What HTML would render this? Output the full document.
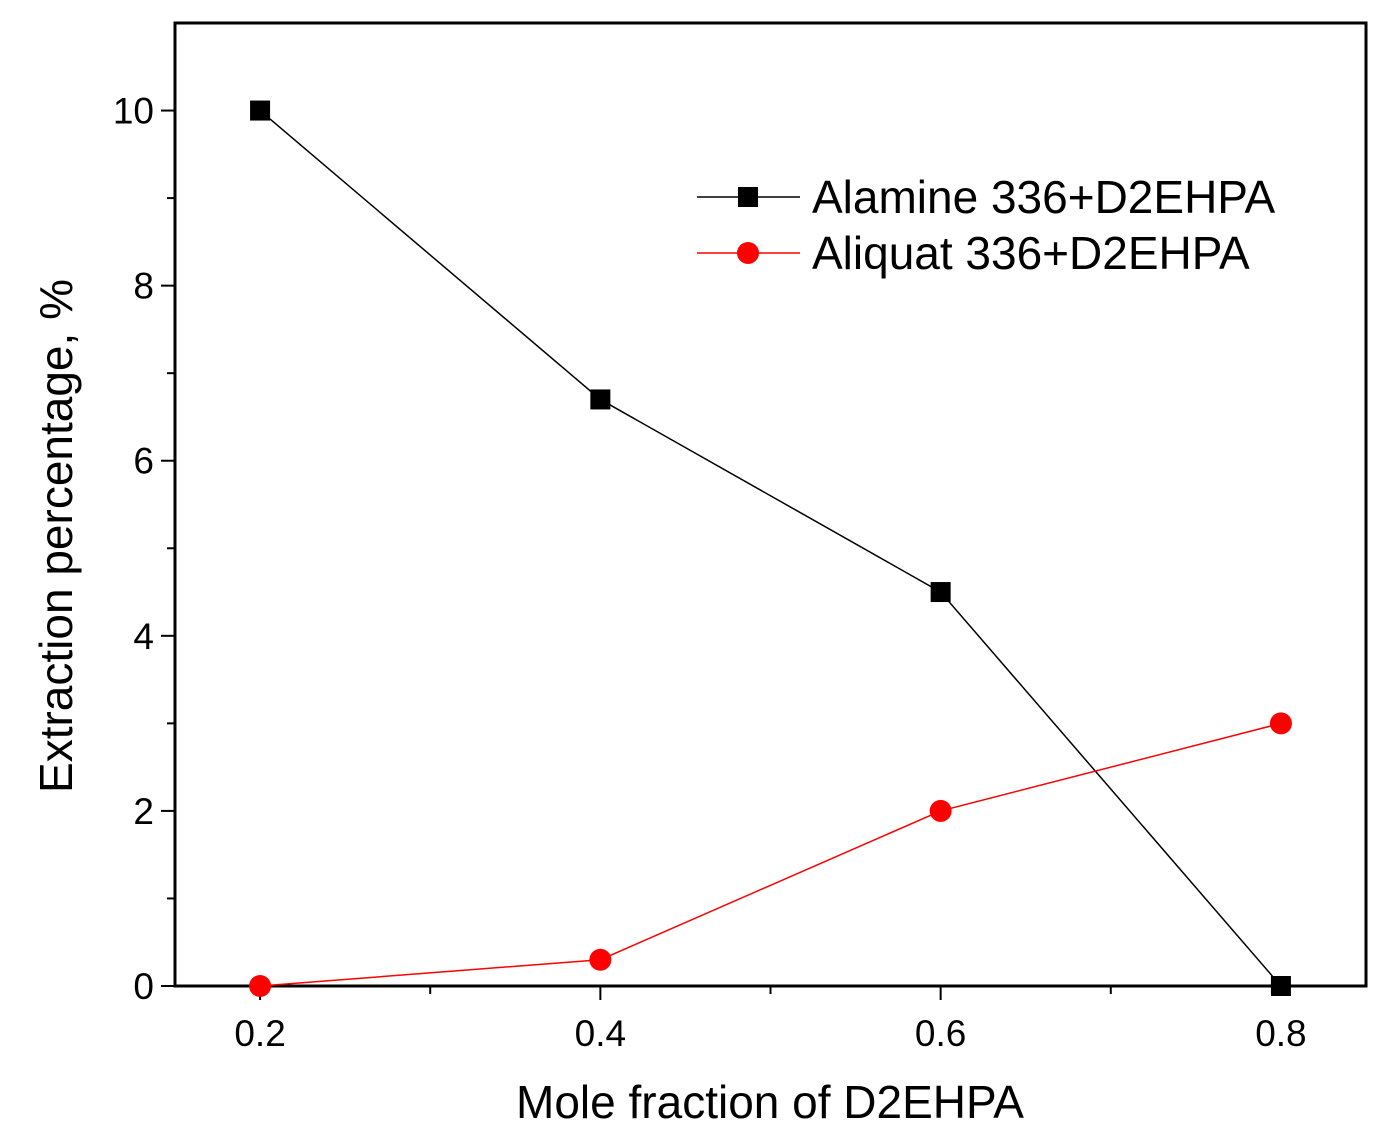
<!DOCTYPE html>
<html><head><meta charset="utf-8"><style>
body{margin:0;background:#fff;}
svg{display:block;font-family:"Liberation Sans",Arial,sans-serif;}
</style></head><body>
<svg id="chart" width="1399" height="1138"></svg>
<script>
const categories=[0.2,0.4,0.6,0.8];
const alamineValues=[10,6.7,4.5,0];
const aliquatValues=[0,0.3,2,3];
const xTickLabels=["0.2","0.4","0.6","0.8"];
const yTickLabels=["0","2","4","6","8","10"];
const yTickValues=[0,2,4,6,8,10];

const L=175,R=1366,T=23,B=986;
const xMin=0.15,xMax=0.85,yMin=0,yMax=11;
const xs=v=>L+(v-xMin)/(xMax-xMin)*(R-L);
const ys=v=>B-(v-yMin)/(yMax-yMin)*(B-T);
const svg=document.getElementById('chart');
const NS='http://www.w3.org/2000/svg';
function mk(tag,attrs,parent){const e=document.createElementNS(NS,tag);for(const k in attrs)e.setAttribute(k,attrs[k]);(parent||svg).appendChild(e);return e;}

const frame=mk('rect',{x:L,y:T,width:R-L,height:B-T,fill:'none',stroke:'#000','stroke-width':3});



for(let v=0.2;v<=0.801;v+=0.1){
  const major=Math.abs((v*10)%2)<0.01;
  const t=mk('line',{x1:xs(v),x2:xs(v),y1:B,y2:B+(major?14:8),stroke:'#000','stroke-width':2});
  
  
}
categories.forEach((c,i)=>{
  const t=mk('text',{x:xs(c),y:B+60,'text-anchor':'middle','font-size':37});
  t.textContent=xTickLabels[i];
  
  
});
for(let v=0;v<=10;v+=1){
  const major=v%2===0;
  const t=mk('line',{x1:L-(major?14:8),x2:L,y1:ys(v),y2:ys(v),stroke:'#000','stroke-width':2});
  
  
}
yTickValues.forEach((v,i)=>{
  const t=mk('text',{x:L-21,y:ys(v)+13,'text-anchor':'end','font-size':37});
  t.textContent=yTickLabels[i];
  
  
});
const xt=mk('text',{x:770,y:1118,'text-anchor':'middle','font-size':46});
xt.textContent='Mole fraction of D2EHPA';


const yt=mk('text',{x:0,y:0,'text-anchor':'middle','font-size':46,transform:'translate(72,536) rotate(-90)'});
yt.textContent='Extraction percentage, %';



function series(vals,color,shape,name){
  const pts=categories.map((c,i)=>xs(c)+','+ys(vals[i])).join(' ');
  const pl=mk('polyline',{points:pts,fill:'none',stroke:color,'stroke-width':1.5});
  
  
  categories.forEach((c,i)=>{
    let m;
    if(shape==='square') m=mk('rect',{x:xs(c)-10,y:ys(vals[i])-10,width:20,height:20,fill:color});
    else m=mk('circle',{cx:xs(c),cy:ys(vals[i]),r:11,fill:color});
    
    
  });
}
series(alamineValues,'#000','square','alamine');
series(aliquatValues,'#ff0000','circle','aliquat');

const lg=mk('g',{});


mk('line',{x1:697,x2:800,y1:197,y2:197,stroke:'#000','stroke-width':1.5},lg);
mk('rect',{x:738,y:187,width:20,height:20,fill:'#000'},lg);
const t1=mk('text',{x:812,y:213,'font-size':46},lg);t1.textContent='Alamine 336+D2EHPA';


mk('line',{x1:697,x2:800,y1:253,y2:253,stroke:'#ff0000','stroke-width':1.5},lg);
mk('circle',{cx:748,cy:253,r:11,fill:'#ff0000'},lg);
const t2=mk('text',{x:812,y:269,'font-size':46},lg);t2.textContent='Aliquat 336+D2EHPA';


</script>
</body></html>
